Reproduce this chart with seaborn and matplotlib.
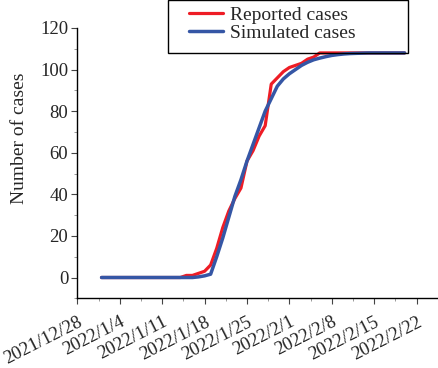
import pandas as pd
import matplotlib.pyplot as plt
import matplotlib.ticker as mticker
from matplotlib.patches import Rectangle
import seaborn as sns

# Daily values, 2022/1/1 .. 2022/2/20
dates = pd.date_range("2022-01-01", "2022-02-20", freq="D")

reported = [0] * 14 + [
    1, 1, 2, 3, 6, 14, 24, 32, 38, 43, 56, 61, 68, 73, 93, 96, 99,
    101, 102, 103, 105, 106, 108,
] + [108] * 14

simulated = [0] * 16 + [
    0.3, 0.8, 1.6, 10, 19, 29, 39, 47, 56, 64, 72, 80, 86, 92, 95.5,
    98, 100, 102, 103.5, 104.7, 105.5, 106.2, 106.8, 107.2, 107.5, 107.7,
] + [107.8, 107.9, 108, 108, 108, 108, 108, 108, 108]

tick_dates = pd.date_range("2021-12-28", periods=9, freq="7D")
tick_labels = ["2021/12/28", "2022/1/4", "2022/1/11", "2022/1/18", "2022/1/25",
               "2022/2/1", "2022/2/8", "2022/2/15", "2022/2/22"]
y_ticks = [0, 20, 40, 60, 80, 100, 120]

df = pd.DataFrame({"date": dates, "reported": reported, "simulated": simulated})

sns.set_style("ticks")
plt.rcParams["font.family"] = ["Liberation Serif", "DejaVu Serif"]

fig = plt.figure(figsize=(4.38, 3.68), dpi=100)
ax = fig.add_axes([0.1765, 0.1894, 0.8205, 0.7346])

sns.lineplot(data=df, x="date", y="reported", ax=ax, color="#ee1c25", linewidth=2.3,
             label="Reported cases")
sns.lineplot(data=df, x="date", y="simulated", ax=ax, color="#3556a5", linewidth=2.5,
             label="Simulated cases")

ax.set_xlim(tick_dates[0], tick_dates[0] + pd.Timedelta(days=59.3))
ax.set_ylim(-10, 120)
ax.set_xticks(tick_dates)
ax.set_xticklabels(tick_labels, rotation=27, ha="right", va="top", rotation_mode="anchor")
ax.set_yticks(y_ticks)
ax.xaxis.set_minor_locator(mticker.AutoMinorLocator(2))
ax.yaxis.set_minor_locator(mticker.AutoMinorLocator(2))
ax.tick_params(axis="both", which="major", labelsize=13.5, length=4, width=0.8, color="#444444")
ax.tick_params(axis="both", which="minor", length=2.5, width=0.6, color="#888888")
ax.tick_params(axis="x", pad=7)
ax.tick_params(axis="y", pad=2.5)

ax.set_xlabel("")
ax.set_ylabel("Number of cases", fontsize=14)
ax.yaxis.set_label_coords(-0.137, 0.591)

for side in ["top", "right"]:
    ax.spines[side].set_visible(False)
for side in ["left", "bottom"]:
    ax.spines[side].set_linewidth(1.0)
    ax.spines[side].set_color("black")

leg = ax.legend(loc="center left", bbox_to_anchor=(189 / 438, 1 - 24.2 / 368),
                bbox_transform=fig.transFigure, frameon=False, fontsize=14,
                borderpad=0, borderaxespad=0, handlelength=1.75, handletextpad=0.36,
                labelspacing=0.05)

fig.patches.append(Rectangle((168 / 438, 1 - 53.3 / 368), 240 / 438, 52.8 / 368,
                             transform=fig.transFigure, fill=False,
                             edgecolor="black", linewidth=1.0))

fig.savefig("out.png", dpi=100)
